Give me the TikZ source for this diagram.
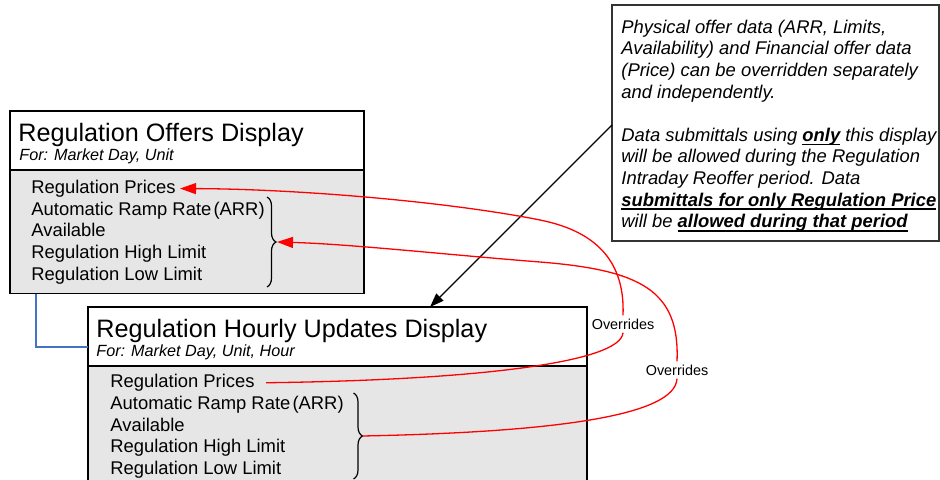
\documentclass[tikz,border=0pt]{standalone}
\usepackage{fontspec}
\setmainfont{Liberation Sans}
\usetikzlibrary{arrows.meta,calc,decorations.pathreplacing}
\definecolor{panelgray}{RGB}{230,230,230}
\definecolor{linkblue}{RGB}{68,114,196}
\newsavebox{\ulbox}
\newcommand{\thickul}[1]{\sbox{\ulbox}{\textbf{#1}}\rlap{\rule[-2pt]{\wd\ulbox}{0.9pt}}\usebox{\ulbox}}
\tikzset{
  head/.style={draw, fill=white, line width=0.7pt, outer sep=0, anchor=north west},
  body/.style={draw, fill=panelgray, line width=0.7pt, outer sep=0, anchor=north west},
  title/.style={inner sep=0, anchor=base west, font=\fontsize{12.6}{15}\selectfont},
  subtitle/.style={inner sep=0, anchor=base west, font=\fontsize{8.1}{10}\selectfont\itshape},
  item/.style={inner sep=0, anchor=base west, font=\fontsize{9.2}{11}\selectfont},
  fieldbrace/.style={decorate, decoration={brace, amplitude=4.5pt}, line width=0.6pt},
  override/.style={red, line width=0.65pt},
  ovrtip/.style={-{Triangle[length=8pt,width=5.5pt]}},
  ovrlabel/.style={inner sep=1.5pt, font=\fontsize{7.2}{9}\selectfont},
  pointer/.style={-{Triangle[length=7pt,width=5pt]}, line width=0.6pt},
}
\begin{document}
\begin{tikzpicture}[x=0.5pt,y=-0.5pt]
\useasboundingbox (0,0) rectangle (940,480);
\clip (0,0) rectangle (940,480);
% offers display
\node[head, minimum width=177pt, minimum height=29.5pt] (ohead) at (10,111) {};
\node[body, minimum width=177pt, minimum height=61.75pt] (obody) at (ohead.south west) {};
\node[title] (otitle) at (18,141.7) {Regulation Offers Display};
\node[subtitle] (osub) at (19,160.7) {For: Market Day, Unit};
\node[item] (oprice) at (31,193.3) {Regulation Prices};
\node[item] (oarr) at (31,215.1) {Automatic Ramp Rate\kern0.12em(ARR)};
\node[item] (oavail) at (31,236.9) {Available};
\node[item] (ohigh) at (31,258.7) {Regulation High Limit};
\node[item] (olow) at (31,280.5) {Regulation Low Limit};
\draw[fieldbrace] (267,197) -- (267,287);
\coordinate (obrace) at (277,242);
% hourly updates display
\node[head, minimum width=249.5pt, minimum height=29.5pt] (hhead) at (88,307) {};
\node[body, minimum width=249.5pt, minimum height=67pt] (hbody) at (hhead.south west) {};
\node[title] (htitle) at (96,337) {Regulation Hourly Updates Display};
\node[subtitle] (hsub) at (96,356) {For: Market Day, Unit, Hour};
\node[item] (hprice) at (110,387.5) {Regulation Prices};
\node[item] (harr) at (110,409.3) {Automatic Ramp Rate\kern0.12em(ARR)};
\node[item] (havail) at (110,431.1) {Available};
\node[item] (hhigh) at (110,452.9) {Regulation High Limit};
\node[item] (hlow) at (110,474.7) {Regulation Low Limit};
\draw[fieldbrace] (353.5,393) -- (353.5,479);
\coordinate (hbrace) at (362.5,436);
\draw[linkblue, line width=1pt] ($(obody.south west)+(26,0)$) |- ($(hhead.north west)+(0,40)$);
% note
\node[draw=black!80, line width=0.7pt, outer sep=0, anchor=north west, minimum width=163.5pt, minimum height=118pt] (note) at (612,5) {};
\node[inner sep=0, anchor=north west, align=left, font=\fontsize{9.2}{10.8}\selectfont\itshape] (notetext) at (621,19.6)
  {Physical offer data (ARR, Limits,\\
   Availability) and Financial offer data\\
   (Price) can be overridden separately\\
   and independently.\\[10.8pt]
   Data submittals using \thickul{only} this display\\
   will be allowed during the Regulation\\
   Intraday Reoffer period. Data\\
   \thickul{submittals for only Regulation Price}\\
   will be \thickul{allowed during that period}};
\draw[pointer] ($(note.north west)+(0,120)$) -- ($(hhead.north west)+(342,0)$);
% overrides
\node[ovrlabel] (ovr1) at (623,324) {Overrides};
\node[ovrlabel] (ovr2) at (677,370) {Overrides};
\draw[override] ([xshift=5.5pt]hprice.east) .. controls (480,380) and (621,362) .. (ovr1.south);
\draw[override, ovrtip] (ovr1.north) .. controls (625,265) and (600,232) .. (540,220)
  .. controls (450,202) and (300,189) .. ([xshift=2pt]oprice.east);
\draw[override] (hbrace) .. controls (560,432) and (675,415) .. (ovr2.south);
\draw[override, ovrtip] (ovr2.north) .. controls (680,290) and (640,270) .. (540,262)
  .. controls (450,255) and (350,244) .. (obrace);
\end{tikzpicture}
\end{document}
